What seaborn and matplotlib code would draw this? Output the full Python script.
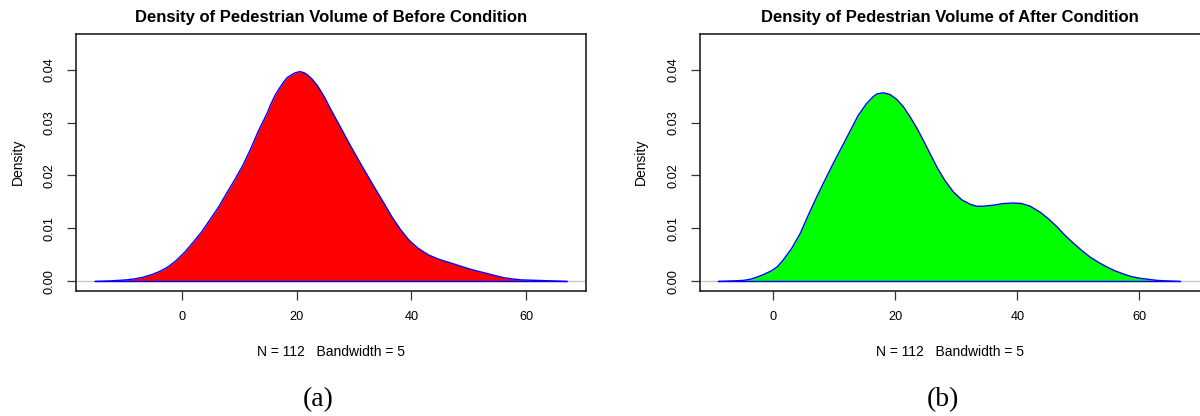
import seaborn as sns
import matplotlib.pyplot as plt
import numpy as np


sns.set_theme(style='white')
plt.rcParams['font.family'] = ['Liberation Sans', 'DejaVu Sans']
plt.rcParams['text.color'] = 'black'
plt.rcParams['axes.labelcolor'] = 'black'
plt.rcParams['xtick.labelcolor'] = 'black'
plt.rcParams['ytick.labelcolor'] = 'black'

# density curves
x_before = [-15.1, -12.5, -9.6, -8.1, -6.7, -5.2, -3.8, -2.3, -0.9, 0.6, 2.0, 3.5, 4.9, 6.4, 7.8,
            9.3, 10.7, 12.0, 13.4, 14.9, 15.5, 16.3, 17.1, 17.8, 18.4, 19.3, 19.8, 20.6, 21.3,
            21.9, 22.7, 23.6, 24.3, 25.0, 25.7, 26.5, 27.9, 29.4, 30.8, 32.3, 33.7, 35.2, 36.6,
            38.1, 39.5, 41.0, 42.1, 43.0, 44.5, 45.9, 47.4, 48.8, 50.3, 51.7, 53.2, 54.6, 56.1,
            57.5, 59.0, 61.9, 64.7, 67.1]
d_before = [0.0, 0.0001, 0.0003, 0.0005, 0.0008, 0.0013, 0.0019, 0.0028, 0.0040, 0.0056, 0.0074,
            0.0094, 0.0116, 0.0140, 0.0166, 0.0193, 0.0220, 0.0250, 0.0285, 0.0318, 0.0334, 0.0352,
            0.0366, 0.0377, 0.0385, 0.0391, 0.0394, 0.0396, 0.0394, 0.0390, 0.0382, 0.0370, 0.0358,
            0.0345, 0.0330, 0.0314, 0.0286, 0.0256, 0.0229, 0.0201, 0.0175, 0.0148, 0.0122, 0.0098,
            0.0079, 0.0064, 0.0056, 0.0050, 0.0043, 0.0038, 0.0033, 0.0028, 0.0023, 0.0019, 0.0015,
            0.0011, 0.0007, 0.0005, 0.0003, 0.0002, 0.0001, 0.0]

x_after = [-9.0, -6.6, -4.9, -3.8, -2.7, -1.6, -0.3, 0.7, 1.6, 3.0, 4.4, 5.7, 7.1, 8.5, 9.8, 11.2,
           12.6, 13.9, 15.3, 16.4, 17.0, 18.0, 19.1, 20.2, 21.3, 22.4, 23.5, 24.6, 25.7, 26.8, 28.1,
           29.5, 30.9, 32.2, 33.3, 34.4, 36.1, 37.7, 39.3, 40.7, 42.1, 43.7, 45.1, 46.5, 47.8, 49.2,
           50.6, 51.9, 53.3, 54.7, 56.0, 57.4, 58.7, 60.1, 61.5, 62.9, 64.5, 66.7]
d_after = [0.0, 0.0001, 0.0002, 0.0004, 0.0008, 0.0013, 0.0020, 0.0028, 0.0040, 0.0062, 0.0090,
           0.0124, 0.0159, 0.0192, 0.0222, 0.0253, 0.0284, 0.0313, 0.0336, 0.0349, 0.0354, 0.0356,
           0.0353, 0.0344, 0.0330, 0.0311, 0.0290, 0.0266, 0.0241, 0.0216, 0.0191, 0.0169, 0.0154,
           0.0146, 0.0142, 0.0142, 0.0144, 0.0147, 0.0148, 0.0147, 0.0142, 0.0131, 0.0118, 0.0103,
           0.0087, 0.0072, 0.0058, 0.0046, 0.0036, 0.0027, 0.0020, 0.0014, 0.0009, 0.0006, 0.0004,
           0.0002, 0.0001, 0.0]

titles = ['Density of Pedestrian Volume of Before Condition',
          'Density of Pedestrian Volume of After Condition']
xlabel = 'N = 112   Bandwidth = 5'
panel_labels = ['(a)', '(b)']
fills = ['#ff0000', '#00ff00']
xlims = [(-18.4, 70.4), (-12.0, 70.0)]
y_ticks = [0.0, 0.01, 0.02, 0.03, 0.04]
x_ticks = [0, 20, 40, 60]

fig = plt.figure(figsize=(12, 4.16), dpi=100)
W, H = 1200, 416
boxes = [(76, 586), (700, 1200.5)]
ylab_x = [18, 641]
label_x = [318, 943]
top, bottom = 33.5, 291

curves = [(x_before, d_before), (x_after, d_after)]
for i, ((x0, x1), (xs, ds)) in enumerate(zip(boxes, curves)):
    ax = fig.add_axes([x0 / W, 1 - bottom / H, (x1 - x0) / W, (bottom - top) / H])
    ax.axhline(0, color='#c8c8c8', lw=1, zorder=1)
    ax.fill_between(xs, ds, 0, color=fills[i], lw=0, zorder=2)
    sns.lineplot(x=xs, y=ds, color='blue', lw=1, ax=ax, zorder=3, sort=False)
    ax.plot([xs[0], xs[-1]], [0, 0], color='blue', lw=1, zorder=3)

    ax.set_xlim(*xlims[i])
    ax.set_ylim(-0.0018, 0.0468)
    ax.set_xticks(x_ticks)
    ax.set_yticks(y_ticks)
    ax.set_yticklabels([f'{v:.2f}' for v in y_ticks], rotation=90, va='center')
    ax.tick_params(axis='both', direction='out', length=6.5, width=0.9, color='#333333',
                   labelsize=9.2, pad=8, left=True, bottom=True)
    for s in ax.spines.values():
        s.set_color('#111111')
        s.set_linewidth(1.1)

    ax.set_title(titles[i], fontsize=12, fontweight='bold', pad=8)
    ax.set_xlabel(xlabel, fontsize=10)
    ax.xaxis.set_label_coords(0.5, (bottom - 352) / (bottom - top))
    ax.xaxis.label.set_va('center')
    ax.set_ylabel('Density', fontsize=10)
    ax.yaxis.set_label_coords((ylab_x[i] - x0) / (x1 - x0), 0.5)
    ax.yaxis.label.set_va('center')
    ax.grid(False)

    fig.text(label_x[i] / W, 1 - 400 / H, panel_labels[i], ha='center', va='center',
             fontsize=20, family='Liberation Serif')

fig.savefig('out.png', dpi=100, facecolor='white')
